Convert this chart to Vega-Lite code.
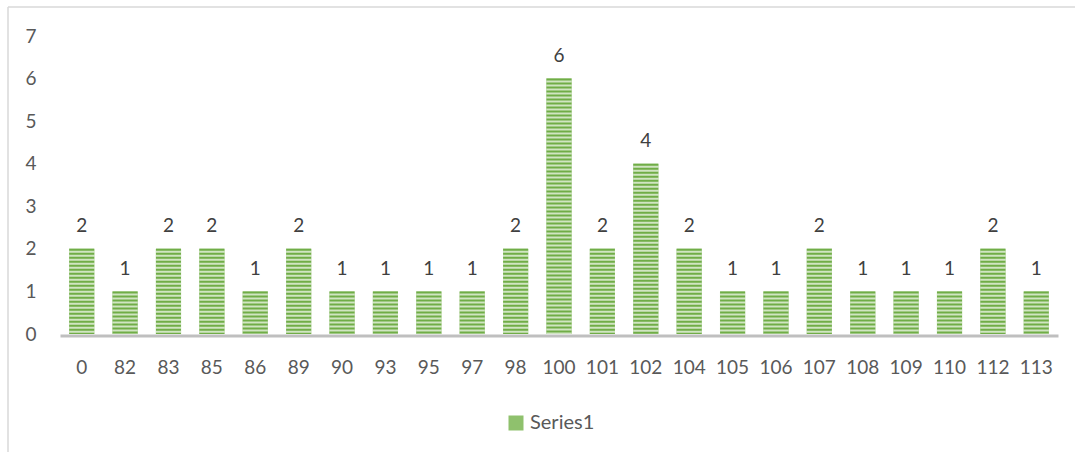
{
  "$schema": "https://vega.github.io/schema/vega-lite/v6.json",
  "width": 1067,
  "height": 445,
  "autosize": {"type": "none"},
  "padding": {"left": 8, "top": 7, "right": 0, "bottom": 0},
  "background": "white",
  "config": {
    "view": {"stroke": "#d9d9d9", "strokeWidth": 1.5, "strokeDash": [1067, 1512, 445, 0]},
    "font": "Lato",
    "axis": {"grid": false, "ticks": false, "tickSize": 0, "labelFont": "Lato", "labelFontSize": 19, "labelColor": "#595959", "title": null}
  },
  "data": {
    "values": [
      {"category": "0", "count": 2, "series": "Series1"},
      {"category": "82", "count": 1, "series": "Series1"},
      {"category": "83", "count": 2, "series": "Series1"},
      {"category": "85", "count": 2, "series": "Series1"},
      {"category": "86", "count": 1, "series": "Series1"},
      {"category": "89", "count": 2, "series": "Series1"},
      {"category": "90", "count": 1, "series": "Series1"},
      {"category": "93", "count": 1, "series": "Series1"},
      {"category": "95", "count": 1, "series": "Series1"},
      {"category": "97", "count": 1, "series": "Series1"},
      {"category": "98", "count": 2, "series": "Series1"},
      {"category": "100", "count": 6, "series": "Series1"},
      {"category": "101", "count": 2, "series": "Series1"},
      {"category": "102", "count": 4, "series": "Series1"},
      {"category": "104", "count": 2, "series": "Series1"},
      {"category": "105", "count": 1, "series": "Series1"},
      {"category": "106", "count": 1, "series": "Series1"},
      {"category": "107", "count": 2, "series": "Series1"},
      {"category": "108", "count": 1, "series": "Series1"},
      {"category": "109", "count": 1, "series": "Series1"},
      {"category": "110", "count": 1, "series": "Series1"},
      {"category": "112", "count": 2, "series": "Series1"},
      {"category": "113", "count": 1, "series": "Series1"}
    ]
  },
  "encoding": {
    "x": {
      "field": "category",
      "type": "nominal",
      "sort": null,
      "scale": {"range": [52, 1050], "paddingInner": 0.42, "paddingOuter": 0.21},
      "axis": {"orient": "bottom", "offset": -116.5, "domainColor": "#bfbfbf", "domainWidth": 3, "labelAngle": 0, "labelPadding": 23}
    },
    "y": {
      "field": "count",
      "type": "quantitative",
      "scale": {"domain": [0, 7], "range": [327, 29], "nice": false, "zero": true},
      "axis": {"values": [0, 1, 2, 3, 4, 5, 6, 7], "domain": false, "offset": -36, "labelPadding": 8}
    }
  },
  "layer": [
    {
      "mark": {"type": "bar"},
      "encoding": {
        "color": {
          "field": "series",
          "type": "nominal",
          "scale": {"range": ["#8fc16d"]},
          "legend": {
            "title": null,
            "orient": "none",
            "legendX": 498,
            "legendY": 406,
            "symbolType": "square",
            "symbolSize": 225,
            "labelFont": "Lato",
            "labelFontSize": 20,
            "labelColor": "#595959",
            "labelOffset": 4,
            "padding": 0,
            "symbolStrokeWidth": 0
          }
        }
      }
    },
    {
      "mark": {"type": "bar", "color": "#d0e5c2"}
    },
    {
      "mark": {"type": "rule", "color": "#70ad47", "strokeWidth": 25, "strokeDash": [2, 2]},
      "encoding": {"y2": {"datum": 0}}
    },
    {
      "mark": {"type": "text", "baseline": "alphabetic", "dy": -16.5, "fontSize": 19, "font": "Lato", "color": "#404040"},
      "encoding": {"text": {"field": "count", "type": "quantitative"}}
    }
  ]
}
